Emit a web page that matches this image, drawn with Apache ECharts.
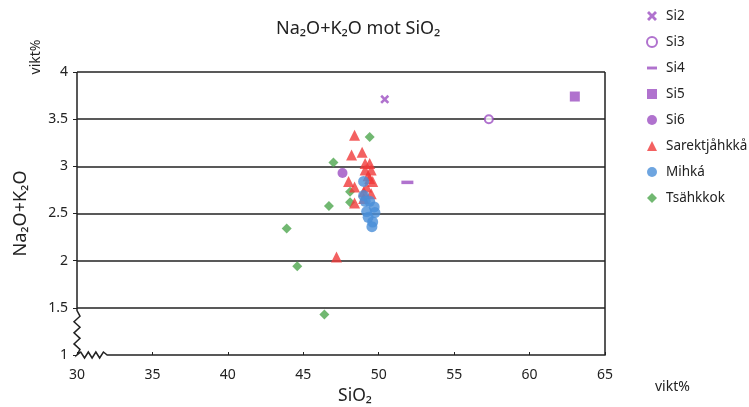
<!DOCTYPE html>
<html>
<head>
<meta charset="utf-8">
<script src="https://cdn.jsdelivr.net/npm/echarts@6/dist/echarts.min.js"></script>
<style>
  html, body { margin: 0; background: #fff; }
  #main { width: 749px; height: 407px; }
</style>
</head>
<body>
<div id="main"></div>
<script>
// axis ranges (SiO2 on x, Na2O+K2O on y, both vikt%)
const X_MIN = 30, X_MAX = 65, X_STEP = 5, X_BREAK = 32
const Y_MIN = 1, Y_MAX = 4, Y_STEP = 0.5, Y_BREAK = 1.47

// [SiO2, Na2O+K2O]
const si2 = [[50.4, 3.71]]
const si3 = [[57.3, 3.5]]
const si4 = [[51.9, 2.83]]
const si5 = [[63.0, 3.74]]
const si6 = [[47.6, 2.93]]
const sarektjahkka = [
  [48.4, 3.33], [48.2, 3.12], [48.9, 3.15], [49.1, 3.03], [49.4, 3.03],
  [49.1, 2.96], [49.5, 2.96], [48.0, 2.84], [49.4, 2.87], [49.6, 2.84],
  [48.4, 2.78], [49.2, 2.78], [49.0, 2.73], [49.5, 2.71], [48.4, 2.61],
  [49.3, 2.9], [49.0, 2.66], [47.2, 2.04]
]
const mihka = [
  [49.0, 2.84], [49.0, 2.69], [49.1, 2.63], [49.4, 2.63], [49.7, 2.57],
  [49.2, 2.52], [49.75, 2.51], [49.3, 2.46], [49.6, 2.41], [49.55, 2.36]
]
const tsahkkok = [
  [49.4, 3.31], [47.0, 3.04], [48.1, 2.73], [48.1, 2.62], [46.7, 2.58],
  [43.9, 2.34], [44.6, 1.94], [46.4, 1.43]
]

const PURPLE = '#9c4fc2'
const RED = '#f03a3a'
const BLUE = '#4a8fd8'
const GREEN = '#4ea64e'
const FONT = 'Noto Sans'

const crossPath = 'path://M2,0L5,3L8,0L10,2L7,5L10,8L8,10L5,7L2,10L0,8L3,5L0,2Z'
const dashPath = 'path://M0,0H12V3.5H0Z'

// frame with the two zigzag axis breaks near the origin
function renderFrame(params, api) {
  const topLeft = api.coord([X_MIN, Y_MAX])
  const breakTop = api.coord([X_MIN, Y_BREAK])
  const origin = api.coord([X_MIN, Y_MIN])
  const breakRight = api.coord([X_BREAK, Y_MIN])
  const bottomRight = api.coord([X_MAX, Y_MIN])
  const topRight = api.coord([X_MAX, Y_MAX])
  const pts = [topLeft, breakTop]
  const n = 8
  for (let i = 1; i < n; i++) {
    const y = breakTop[1] + (origin[1] - breakTop[1]) * i / n
    pts.push([origin[0] + (i % 2 ? 3 : -3), y])
  }
  pts.push(origin)
  for (let i = 1; i < n; i++) {
    const x = origin[0] + (breakRight[0] - origin[0]) * i / n
    pts.push([x, origin[1] + (i % 2 ? -3 : 3)])
  }
  pts.push(breakRight, bottomRight, topRight)
  return {
    type: 'polyline',
    shape: { points: pts },
    style: { stroke: '#222', lineWidth: 1.5, fill: null }
  }
}

var myChart = echarts.init(document.getElementById('main'))

var option = {
  animation: false,
  textStyle: { fontFamily: FONT },
  title: {
    text: 'Na₂O+K₂O mot SiO₂',
    left: 271,
    top: 15,
    textStyle: { fontFamily: FONT, fontSize: 18, fontWeight: 'normal', color: '#222' }
  },
  legend: {
    orient: 'vertical',
    left: 641,
    top: 4,
    itemWidth: 10,
    itemHeight: 10,
    itemGap: 12,
    textStyle: { fontFamily: FONT, fontSize: 13.5, color: '#222', padding: [0, 0, 0, 4] },
    data: ['Si2', 'Si3', 'Si4', 'Si5', 'Si6', 'Sarektjåhkkå', 'Mihká', 'Tsähkkok']
  },
  grid: { left: 77, right: 144, top: 72, bottom: 52, outerBoundsMode: 'none' },
  xAxis: {
    type: 'value',
    min: X_MIN,
    max: X_MAX,
    interval: X_STEP,
    name: 'SiO₂',
    nameLocation: 'middle',
    nameGap: 31,
    nameTextStyle: { fontFamily: FONT, fontSize: 17.5, color: '#222', padding: [0, 0, 0, 28] },
    axisLine: { show: false },
    axisTick: { show: true, inside: true, length: 3, lineStyle: { color: '#222' } },
    axisLabel: { fontFamily: FONT, fontSize: 14, color: '#222', margin: 13 },
    splitLine: { show: false }
  },
  yAxis: {
    type: 'value',
    min: Y_MIN,
    max: Y_MAX,
    interval: Y_STEP,
    name: 'Na₂O+K₂O',
    nameLocation: 'middle',
    nameGap: 47,
    nameTextStyle: { fontFamily: FONT, fontSize: 18, color: '#222' },
    axisLine: { show: false },
    axisTick: { show: true, length: 4, lineStyle: { color: '#222' } },
    axisLabel: { fontFamily: FONT, fontSize: 14, color: '#222', margin: 9 },
    splitLine: { show: true, showMinLine: false, lineStyle: { color: '#222', width: 1.5 } }
  },
  graphic: [
    {
      type: 'text',
      x: 36,
      y: 57,
      rotation: Math.PI / 2,
      style: { text: 'vikt%', font: '14px "Noto Sans"', fill: '#222', align: 'center', verticalAlign: 'middle' }
    },
    {
      type: 'text',
      x: 655,
      y: 387,
      style: { text: 'vikt%', font: '14px "Noto Sans"', fill: '#222', align: 'left', verticalAlign: 'middle' }
    }
  ],
  series: [
    {
      type: 'custom',
      silent: true,
      clip: false,
      z: 1,
      renderItem: renderFrame,
      data: [[X_MIN, Y_MIN]]
    },
    { name: 'Si2', type: 'scatter', data: si2, symbol: crossPath, symbolSize: 9, itemStyle: { color: PURPLE }, z: 3 },
    { name: 'Si3', type: 'scatter', data: si3, symbol: 'emptyCircle', symbolSize: 8, itemStyle: { color: PURPLE, borderColor: PURPLE, borderWidth: 2.5 }, z: 3 },
    { name: 'Si4', type: 'scatter', data: si4, symbol: dashPath, symbolSize: [12, 3.5], symbolKeepAspect: false, itemStyle: { color: PURPLE }, z: 3 },
    { name: 'Si5', type: 'scatter', data: si5, symbol: 'rect', symbolSize: 10, itemStyle: { color: PURPLE }, z: 3 },
    { name: 'Si6', type: 'scatter', data: si6, symbol: 'circle', symbolSize: 10, itemStyle: { color: PURPLE }, z: 3 },
    { name: 'Tsähkkok', type: 'scatter', data: tsahkkok, symbol: 'diamond', symbolSize: 10, itemStyle: { color: GREEN }, z: 3 },
    { name: 'Sarektjåhkkå', type: 'scatter', data: sarektjahkka, symbol: 'triangle', symbolSize: 11, itemStyle: { color: RED }, z: 3 },
    { name: 'Mihká', type: 'scatter', data: mihka, symbol: 'circle', symbolSize: 11, itemStyle: { color: BLUE }, z: 3 }
  ]
}

myChart.setOption(option)
</script>
</body>
</html>
